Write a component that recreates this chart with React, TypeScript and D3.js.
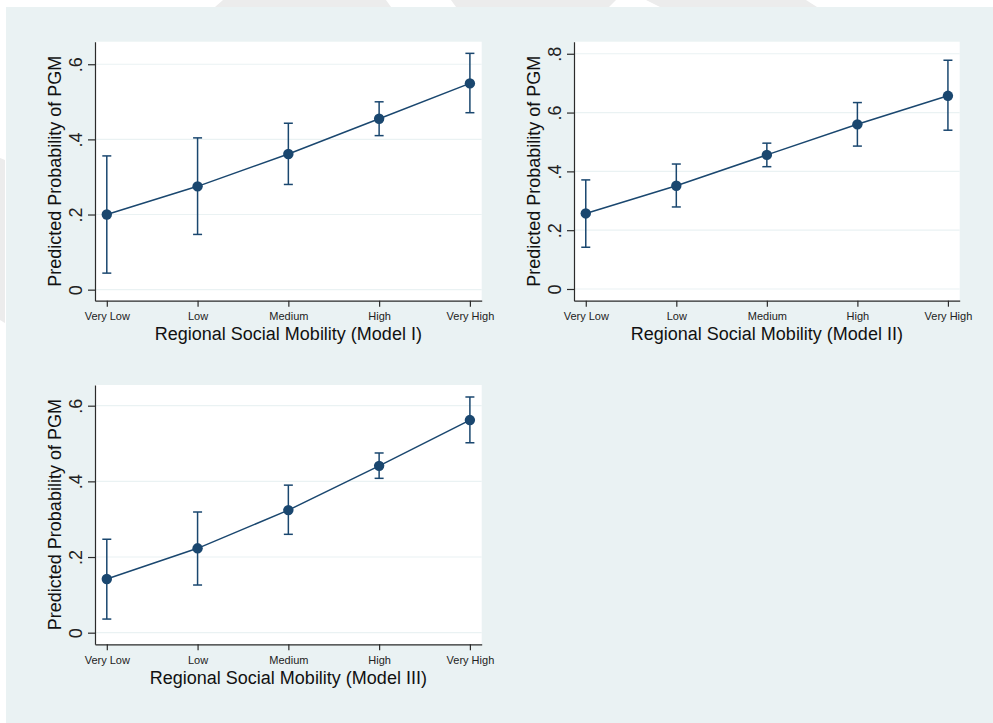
import * as d3 from 'd3';
import { useEffect, useRef } from 'react';

// categories on the x axis
const categories = ['Very Low', 'Low', 'Medium', 'High', 'Very High'];

// Model I
const m1Est = [0.200, 0.275, 0.361, 0.455, 0.549];
const m1Lo = [0.044, 0.147, 0.280, 0.410, 0.471];
const m1Hi = [0.356, 0.404, 0.443, 0.500, 0.629];
const m1Ticks = [0, 0.2, 0.4, 0.6];

// Model II
const m2Est = [0.257, 0.351, 0.456, 0.560, 0.657];
const m2Lo = [0.142, 0.279, 0.416, 0.486, 0.540];
const m2Hi = [0.371, 0.425, 0.496, 0.634, 0.778];
const m2Ticks = [0, 0.2, 0.4, 0.6, 0.8];

// Model III
const m3Est = [0.142, 0.223, 0.324, 0.441, 0.562];
const m3Lo = [0.036, 0.126, 0.260, 0.408, 0.502];
const m3Hi = [0.247, 0.319, 0.390, 0.475, 0.623];
const m3Ticks = [0, 0.2, 0.4, 0.6];

const yTitle = 'Predicted Probability of PGM';

const NAVY = '#1a476f';
const AXIS = '#2b2b2b';
const FONT = '"Liberation Sans", Arial, Helvetica, sans-serif';

const panels = [
    { left: 95, right: 481.7, top: 41.7, bottom: 300.7, yDomain: [-0.0294, 0.66], ticks: m1Ticks,
      est: m1Est, lo: m1Lo, hi: m1Hi, title: 'Regional Social Mobility (Model I)' },
    { left: 574, right: 959.7, top: 41.7, bottom: 300.7, yDomain: [-0.0398, 0.841], ticks: m2Ticks,
      est: m2Est, lo: m2Lo, hi: m2Hi, title: 'Regional Social Mobility (Model II)' },
    { left: 95, right: 481.7, top: 385, bottom: 644.3, yDomain: [-0.0307, 0.6547], ticks: m3Ticks,
      est: m3Est, lo: m3Lo, hi: m3Hi, title: 'Regional Social Mobility (Model III)' },
];

const fmt = (v: number) => (v === 0 ? '0' : d3.format('.1f')(v).replace(/^0/, ''));

const App = () => {
    const svgRef = useRef<SVGSVGElement>(null);

    useEffect(() => {
        const svg = d3.select(svgRef.current);
        svg.selectAll('*').remove();

        // page backdrop with the faint watermark shapes
        svg.append('rect').attr('width', 993).attr('height', 723).attr('fill', '#ffffff');
        const marks = [
            [[223, 0], [386, 0], [391, 7], [215, 7]],
            [[451, 0], [616, 0], [609, 7], [456, 7]],
            [[646, 0], [806, 0], [817, 7], [660, 7]],
            [[0, 158], [5, 160], [5, 323], [0, 320]],
        ];
        svg.selectAll('polygon.wm')
            .data(marks)
            .enter()
            .append('polygon')
            .attr('class', 'wm')
            .attr('points', d => d.map(p => p.join(',')).join(' '))
            .attr('fill', '#ececec');
        svg.append('rect')
            .attr('x', 6).attr('y', 7).attr('width', 987).attr('height', 716)
            .attr('fill', '#eaf2f3');

        panels.forEach(p => {
            const g = svg.append('g');
            const x = d3.scalePoint<string>().domain(categories).range([p.left, p.right]).padding(0.13);
            const y = d3.scaleLinear().domain(p.yDomain).range([p.bottom, p.top]);

            g.append('rect')
                .attr('x', p.left).attr('y', p.top)
                .attr('width', p.right - p.left).attr('height', p.bottom - p.top)
                .attr('fill', '#ffffff');

            // grid
            g.selectAll('line.grid')
                .data(p.ticks)
                .enter()
                .append('line')
                .attr('class', 'grid')
                .attr('x1', p.left).attr('x2', p.right)
                .attr('y1', d => y(d)).attr('y2', d => y(d))
                .attr('stroke', '#eaf2f3')
                .attr('stroke-width', 1.2);

            // y axis
            const ya = g.append('g')
                .attr('transform', `translate(${p.left},0)`)
                .call(d3.axisLeft(y).tickValues(p.ticks).tickFormat(d => fmt(+d)).tickSize(7).tickSizeOuter(0));
            ya.select('.domain').attr('stroke', AXIS).attr('stroke-width', 1.2);
            ya.selectAll('.tick line').attr('stroke', AXIS).attr('stroke-width', 1.2);
            ya.selectAll('.tick text')
                .attr('transform', 'rotate(-90)')
                .attr('x', 0).attr('y', -13.5).attr('dy', 0)
                .attr('text-anchor', 'middle')
                .attr('font-family', FONT).attr('font-size', 18).attr('fill', '#222');

            // x axis
            const xa = g.append('g')
                .attr('transform', `translate(0,${p.bottom})`)
                .call(d3.axisBottom(x).tickSize(6).tickSizeOuter(0));
            xa.select('.domain').attr('stroke', AXIS).attr('stroke-width', 1.2);
            xa.selectAll('.tick line').attr('stroke', AXIS).attr('stroke-width', 1.2);
            xa.selectAll('.tick text')
                .attr('y', 19.5).attr('dy', 0)
                .attr('font-family', FONT).attr('font-size', 11).attr('fill', '#222');

            // axis titles
            g.append('text')
                .attr('x', (p.left + p.right) / 2).attr('y', p.bottom + 39.5)
                .attr('text-anchor', 'middle')
                .attr('font-family', FONT).attr('font-size', 18).attr('fill', '#111')
                .text(p.title);
            g.append('text')
                .attr('transform', `translate(${p.left - 34.3},${(p.top + p.bottom) / 2}) rotate(-90)`)
                .attr('text-anchor', 'middle')
                .attr('font-family', FONT).attr('font-size', 18).attr('fill', '#111')
                .text(yTitle);

            const rows = categories.map((c, i) => ({ c, est: p.est[i], lo: p.lo[i], hi: p.hi[i] }));

            // confidence intervals
            const ci = g.selectAll('g.ci').data(rows).enter().append('g').attr('class', 'ci');
            ci.append('line')
                .attr('x1', d => x(d.c)!).attr('x2', d => x(d.c)!)
                .attr('y1', d => y(d.lo)).attr('y2', d => y(d.hi))
                .attr('stroke', NAVY).attr('stroke-width', 1.5);
            [(d: any) => d.lo, (d: any) => d.hi].forEach(acc => {
                ci.append('line')
                    .attr('x1', d => x(d.c)! - 4.5).attr('x2', d => x(d.c)! + 4.5)
                    .attr('y1', d => y(acc(d))).attr('y2', d => y(acc(d)))
                    .attr('stroke', NAVY).attr('stroke-width', 1.5);
            });

            // connecting line
            const line = d3.line<any>().x(d => x(d.c)!).y(d => y(d.est));
            g.append('path')
                .datum(rows)
                .attr('d', line)
                .attr('fill', 'none')
                .attr('stroke', NAVY)
                .attr('stroke-width', 1.5);

            g.selectAll('circle.pt')
                .data(rows)
                .enter()
                .append('circle')
                .attr('class', 'pt')
                .attr('cx', d => x(d.c)!)
                .attr('cy', d => y(d.est))
                .attr('r', 5.2)
                .attr('fill', NAVY);
        });

        return () => {
            svg.selectAll('*').remove();
        };
    }, []);

    return (
        <div style={{ position: 'absolute', left: 0, top: 0 }}>
            <svg ref={svgRef} width={993} height={723} style={{ display: 'block' }}></svg>
        </div>
    );
};

export default App;
